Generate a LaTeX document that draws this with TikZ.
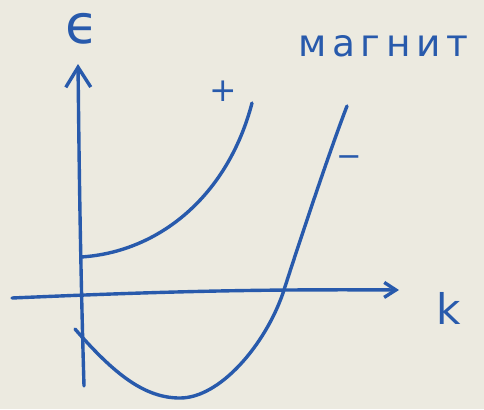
\documentclass[tikz,border=0pt]{standalone}
\usepackage{fontspec}
\newfontfamily\hand{DejaVu Sans}
\newfontfamily\handwide[LetterSpace=15]{DejaVu Sans}
\usepackage{tikz}
\usetikzlibrary{positioning,arrows.meta}
\definecolor{ink}{RGB}{40,90,172}
\definecolor{paper}{RGB}{236,234,224}

\begin{document}
\begin{tikzpicture}[
    x=0.03cm, y=-0.03cm,
    pen/.style={draw=ink, line width=2.9pt, line cap=round, line join=round},
    axisup/.style={pen, -{Straight Barb[length=6mm, width=7.5mm, line width=2.9pt]}},
    axisright/.style={pen, -{Straight Barb[length=3.5mm, width=4.5mm, line width=2.9pt]}},
    lbl/.style={text=ink, inner sep=0pt, font=\hand}
  ]
  % Paper
  \clip (0,0) rectangle (484,409);
  \fill[paper] (0,0) rectangle (484,409);

  % Axes
  \coordinate (ybot) at (84,386);
  \coordinate (ytop) at (78,64);
  \coordinate (xleft) at (12,298);
  \coordinate (xright) at (399,290);
  \draw[axisup] (ybot) .. controls (80,250) and (79,150) .. (ytop);
  \draw[axisright] (xleft) .. controls (150,292) and (250,289) .. (xright);

  % Axis labels
  \node[lbl, font=\hand\fontsize{46}{46}\selectfont] (eps) at (82,29) {ϵ};
  \node[lbl, font=\hand\fontsize{36}{36}\selectfont] (kay) at (449,308) {k};

  % Upper branch (+)
  \coordinate (pstart) at (81,257);
  \coordinate (pend) at (252,103);
  \draw[pen] (pstart) .. controls (160,252) and (228,195) .. (pend);
  \node[lbl, font=\hand\fontsize{28}{28}\selectfont] (plus) at (223,91) {+};

  % Lower branch (-)
  \coordinate (mstart) at (75,329);
  \coordinate (mmin) at (180,398);
  \coordinate (mcross) at (283,293);
  \coordinate (mend) at (347,106);
  \draw[pen] (mstart) .. controls (115,375) and (145,398) .. (mmin)
    .. controls (220,398) and (265,345) .. (mcross)
    .. controls (300,240) and (330,150) .. (mend);
  \node[lbl, font=\hand\fontsize{26}{26}\selectfont] (minus) at (349,161) {−};

  % Note, cut off at the edge
  \node[lbl, anchor=base west, font=\handwide\fontsize{32}{32}\selectfont] (note) at (298,56) {магнит};
\end{tikzpicture}
\end{document}
